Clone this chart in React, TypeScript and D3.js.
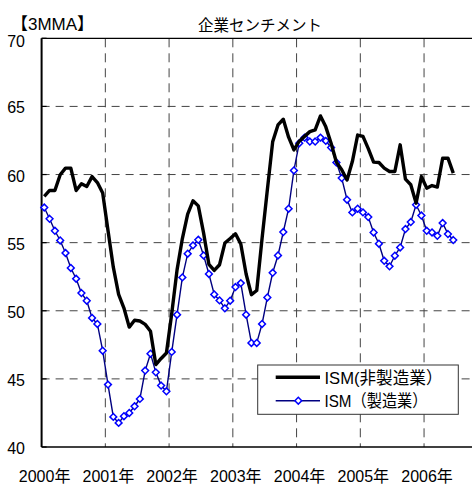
import * as d3 from 'd3';

// 3ヶ月移動平均, 2000年1月〜2006年6月
const nonMfg = [
  58.4, 58.83, 58.83, 59.98, 60.47, 60.47, 58.83, 59.32, 59.12, 59.85, 59.41, 58.64,
  55.9, 53.2, 51.2, 50.2, 48.8, 49.3, 49.25, 49.0, 48.5, 46.05, 46.5, 46.9,
  49.8, 53.0, 55.3, 57.1, 58.07, 57.7, 55.7, 53.4, 52.96, 53.38, 54.97, 55.3,
  55.65, 54.9, 52.7, 51.18, 51.49, 55.3, 58.88, 62.4, 63.64, 64.06, 62.74, 61.81,
  62.45, 62.8, 63.15, 63.28, 64.3, 63.5, 62.3, 60.9, 60.35, 59.6, 60.95, 62.9,
  62.8, 61.9, 60.91, 60.88, 60.47, 60.22, 60.22, 62.18, 59.66, 59.25, 57.9, 59.85,
  59.0, 59.19, 59.08, 61.2, 61.2, 60.1,
];
const mfg = [
  57.58, 56.75, 55.87, 55.16, 54.24, 53.14, 52.35, 51.3, 50.74, 49.47, 49.03, 47.07,
  44.58, 42.21, 41.77, 42.26, 42.5, 42.99, 43.53, 45.61, 46.85, 45.48, 44.51, 44.09,
  46.98, 49.71, 52.45, 54.19, 54.8, 55.21, 54.06, 52.7, 51.2, 50.76, 50.18, 50.74,
  51.74, 52.03, 49.71, 47.64, 47.64, 49.03, 50.98, 52.79, 54.06, 55.78, 57.49, 60.3,
  62.3, 62.71, 62.42, 62.42, 62.71, 62.47, 61.98, 60.88, 59.74, 58.15, 57.22, 57.49,
  57.22, 56.88, 55.75, 54.92, 53.67, 53.26, 54.04, 54.65, 56.0, 56.51, 57.78, 56.99,
  55.87, 55.75, 55.5, 56.44, 55.63, 55.19,
];
const years = [2000, 2001, 2002, 2003, 2004, 2005, 2006, 2007];
const yTicks = [40, 45, 50, 55, 60, 65, 70];
const seriesLabels = ['ISM(非製造業）', 'ISM（製造業）'];

const W = 472, H = 484;
const FONT = '"Liberation Sans", "Noto Sans CJK JP", sans-serif';
const JP = '"Noto Sans CJK JP", sans-serif';

export default function App() {
  const x = d3.scaleLinear().domain([0, 84]).range([41.6, 487.8]);
  const y = d3.scaleLinear().domain([40, 70]).range([447, 38.3]);
  const left = x(0), right = x(84), top = y(70), bottom = y(40);

  const line = d3.line<number>().x((_, i) => x(i + 0.5)).y((d) => y(d));
  const diamond = (cx: number, cy: number, r = 3.4) =>
    `M${cx},${cy - r}L${cx + r},${cy}L${cx},${cy + r}L${cx - r},${cy}Z`;

  const lg = { x: 257.7, y: 365, w: 200.6, h: 49.3 };

  return (
    <svg width={W} height={H} style={{ position: 'absolute', left: 0, top: 0, background: '#fff' }}>
      {/* titles */}
      <text x={11} y={30} fontFamily={FONT} fontSize={17} fill="#000">【3MMA】</text>
      <text x={260} y={31} fontFamily={JP} fontSize={15.5} textAnchor="middle" fill="#000">企業センチメント</text>

      {/* grid */}
      {yTicks.filter((t) => t > 40 && t < 70).map((t) => (
        <line key={'h' + t} x1={left} x2={right} y1={y(t)} y2={y(t)}
          stroke="#444" strokeWidth={1} strokeDasharray="8,6" />
      ))}
      {years.slice(1, -1).map((yr, i) => (
        <line key={'v' + yr} x1={x((i + 1) * 12)} x2={x((i + 1) * 12)} y1={top} y2={bottom}
          stroke="#444" strokeWidth={1} strokeDasharray="9,6" />
      ))}

      {/* frame */}
      <line x1={left} x2={right} y1={top} y2={top} stroke="#000" strokeWidth={1.2} />
      <line x1={left} x2={right} y1={bottom} y2={bottom} stroke="#000" strokeWidth={1.5} />
      <line x1={left} x2={left} y1={top} y2={bottom} stroke="#000" strokeWidth={2} />
      {yTicks.map((t) => (
        <line key={'t' + t} x1={left} x2={left + 5} y1={y(t)} y2={y(t)} stroke="#000" strokeWidth={1.2} />
      ))}

      {/* y labels */}
      {yTicks.map((t) => (
        <text key={'yl' + t} x={25} y={y(t) + (t === 70 ? 3.5 : 1.5)} fontFamily={FONT} fontSize={16}
          textAnchor="end" dominantBaseline="central" fill="#000">{t}</text>
      ))}
      {/* x labels */}
      {years.slice(0, -1).map((yr, i) => (
        <text key={'xl' + yr} x={x(i * 12) + 3} y={482} fontFamily={FONT} fontSize={16}
          textAnchor="middle" fill="#000">{yr}年</text>
      ))}

      {/* series */}
      <path d={line(mfg) ?? ''} fill="none" stroke="#000080" strokeWidth={1.4} />
      {mfg.map((v, i) => (
        <path key={'m' + i} d={diamond(x(i + 0.5), y(v))} fill="#fff" stroke="#0000FF" strokeWidth={1.5} />
      ))}
      <path d={line(nonMfg) ?? ''} fill="none" stroke="#000" strokeWidth={3.4} strokeLinejoin="round" />

      {/* legend */}
      <rect x={lg.x} y={lg.y} width={lg.w} height={lg.h} fill="#fff" stroke="#333" strokeWidth={1} />
      <line x1={275.7} x2={320} y1={377.3} y2={377.3} stroke="#000" strokeWidth={3.4} />
      <text x={324.5} y={383.5} fontFamily={FONT} fontSize={17} fill="#000"
        textLength={118} lengthAdjust="spacingAndGlyphs">{seriesLabels[0]}</text>
      <line x1={275.7} x2={320} y1={400.7} y2={400.7} stroke="#000080" strokeWidth={1.4} />
      <path d={diamond(298.3, 400.7)} fill="#fff" stroke="#0000FF" strokeWidth={1.5} />
      <text x={324.5} y={407} fontFamily={FONT} fontSize={17} fill="#000"
        textLength={103} lengthAdjust="spacingAndGlyphs">{seriesLabels[1]}</text>
    </svg>
  );
}
